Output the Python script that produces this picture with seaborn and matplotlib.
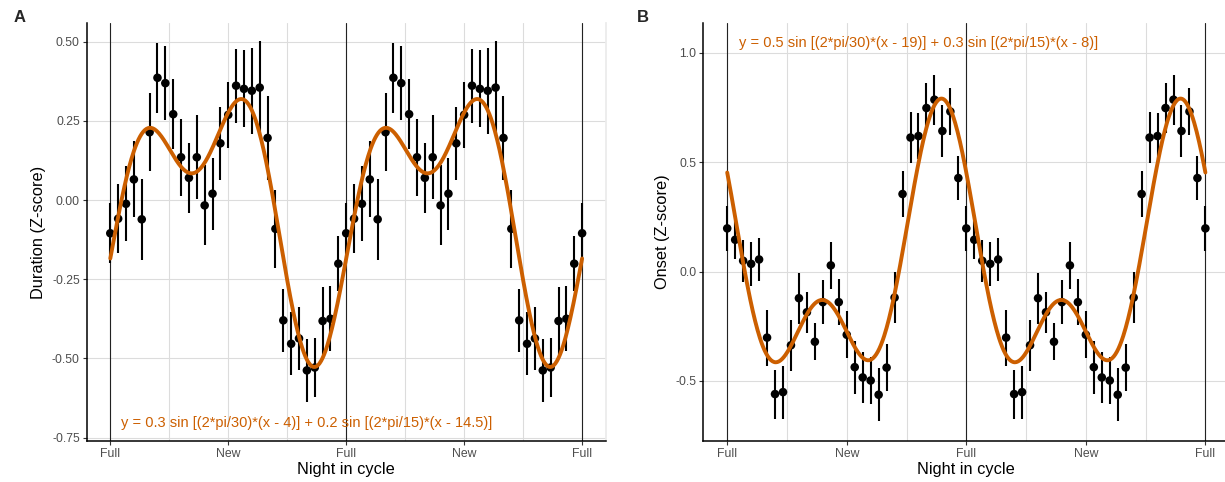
import numpy as np
import pandas as pd
import matplotlib
matplotlib.use("Agg")
import matplotlib.pyplot as plt
import seaborn as sns

# Nightly means and standard errors over one lunar cycle (night 0 = full moon)
nights = list(range(30))
duration_mean = [-0.105, -0.059, -0.012, 0.065, -0.061, 0.214, 0.386, 0.369, 0.271, 0.135,
                 0.070, 0.135, -0.017, 0.020, 0.179, 0.269, 0.361, 0.351, 0.345, 0.355,
                 0.196, -0.091, -0.380, -0.454, -0.437, -0.538, -0.529, -0.382, -0.375, -0.201]
duration_se = [0.095, 0.108, 0.118, 0.120, 0.127, 0.123, 0.110, 0.117, 0.110, 0.122,
               0.111, 0.132, 0.126, 0.114, 0.115, 0.105, 0.117, 0.122, 0.136, 0.148,
               0.132, 0.124, 0.099, 0.100, 0.100, 0.100, 0.094, 0.106, 0.102, 0.087]
onset_mean = [0.197, 0.145, 0.049, 0.035, 0.055, -0.302, -0.560, -0.551, -0.337, -0.122,
              -0.186, -0.321, -0.140, 0.028, -0.140, -0.289, -0.437, -0.484, -0.498, -0.563,
              -0.439, -0.119, 0.354, 0.612, 0.619, 0.747, 0.785, 0.642, 0.731, 0.427]
onset_se = [0.102, 0.088, 0.095, 0.099, 0.098, 0.128, 0.112, 0.121, 0.116, 0.116,
            0.093, 0.085, 0.101, 0.107, 0.104, 0.107, 0.121, 0.116, 0.106, 0.120,
            0.108, 0.116, 0.106, 0.116, 0.107, 0.114, 0.114, 0.117, 0.107, 0.099]

# Fitted two-harmonic models (amplitude, period, phase); the printed labels are
# rounded, these unrounded values follow the drawn curves
duration_fit = [(0.31, 30, 4.0), (0.22, 15, 14.5)]
onset_fit = [(0.46, 30, 19.35), (0.33, 15, 8.15)]
duration_label = "y = 0.3 sin [(2*pi/30)*(x - 4)] + 0.2 sin [(2*pi/15)*(x - 14.5)]"
onset_label = "y = 0.5 sin [(2*pi/30)*(x - 19)] + 0.3 sin [(2*pi/15)*(x - 8)]"

phase_ticks = [0, 15, 30, 45, 60]
phase_labels = ["Full", "New", "Full", "New", "Full"]
full_moons = [0, 30, 60]

ORANGE = "#CC5F00"
GRID = "#DCDCDC"


def double_plot(mean, se):
    # repeat the cycle twice, plus the closing full moon
    df = pd.DataFrame({"night": nights, "mean": mean, "se": se})
    df2 = df.copy()
    df2["night"] = df2["night"] + 30
    last = df.iloc[[0]].copy()
    last["night"] = 60
    return pd.concat([df, df2, last], ignore_index=True)


def fit_curve(params):
    x = np.linspace(0, 60, 601)
    y = np.zeros_like(x)
    for amp, period, shift in params:
        y += amp * np.sin((2 * np.pi / period) * (x - shift))
    return pd.DataFrame({"night": x, "fit": y})


sns.set_theme(style="white")
plt.rcParams["font.family"] = ["Liberation Sans", "DejaVu Sans"]

fig = plt.figure(figsize=(12.25, 4.82), dpi=100)
axA = fig.add_axes([86.7 / 1225, 1 - 440.7 / 482, 519 / 1225, 417.4 / 482])
axB = fig.add_axes([703.3 / 1225, 1 - 440.7 / 482, 526 / 1225, 417.4 / 482])


def draw_panel(ax, mean, se, params, label, ylabel, ylim, yticks, yfmt, label_xy):
    df = double_plot(mean, se)
    curve = fit_curve(params)
    ax.set_xlim(-3, 63)
    ax.set_ylim(*ylim)
    ax.set_xticks(phase_ticks)
    ax.set_xticklabels(phase_labels)
    ax.set_xticks([7.5, 22.5, 37.5, 52.5], minor=True)
    ax.set_yticks(yticks)
    ax.set_yticklabels([yfmt.format(v) for v in yticks])
    ax.grid(True, which="major", color=GRID, linewidth=0.8)
    ax.grid(True, which="minor", axis="x", color=GRID, linewidth=0.8)
    ax.set_axisbelow(True)
    for fm in full_moons:
        ax.axvline(fm, color="#222222", linewidth=0.8, zorder=1)
    ax.errorbar(df["night"], df["mean"], yerr=df["se"], fmt="none",
                ecolor="black", elinewidth=1.5, capsize=0, zorder=2)
    sns.scatterplot(data=df, x="night", y="mean", ax=ax, color="black",
                    s=38, edgecolor="none", zorder=3)
    sns.lineplot(data=curve, x="night", y="fit", ax=ax, color=ORANGE,
                 linewidth=2.8, zorder=4)
    ax.text(label_xy[0], label_xy[1], label, color=ORANGE, fontsize=10.5,
            ha="left", va="center", zorder=5)
    ax.set_xlabel("Night in cycle", fontsize=11.8, color="black", labelpad=2)
    ax.set_ylabel(ylabel, fontsize=11.8, color="black", labelpad=4)
    ax.tick_params(axis="both", which="major", labelsize=8.8, labelcolor="#4D4D4D",
                   length=3, width=0.8, color="#333333", pad=2, bottom=True, left=True)
    ax.tick_params(axis="x", which="minor", length=0)
    for side in ["top", "right"]:
        ax.spines[side].set_visible(False)
    for side in ["left", "bottom"]:
        ax.spines[side].set_color("black")
        ax.spines[side].set_linewidth(1.1)


draw_panel(axA, duration_mean, duration_se, duration_fit, duration_label,
           "Duration (Z-score)", (-0.76, 0.558),
           [-0.75, -0.5, -0.25, 0.0, 0.25, 0.5], "{:.2f}", (1.4, -0.705))
axA.spines["right"].set_visible(True)
axA.spines["right"].set_color("#EBEBEB")
draw_panel(axB, onset_mean, onset_se, onset_fit, onset_label,
           "Onset (Z-score)", (-0.773, 1.134),
           [-0.5, 0.0, 0.5, 1.0], "{:.1f}", (1.46, 1.043))

fig.text(14 / 1225, 1 - 17 / 482, "A", fontsize=12, fontweight="bold", va="center")
fig.text(637 / 1225, 1 - 17 / 482, "B", fontsize=12, fontweight="bold", va="center")

fig.savefig("out.png", dpi=100)
